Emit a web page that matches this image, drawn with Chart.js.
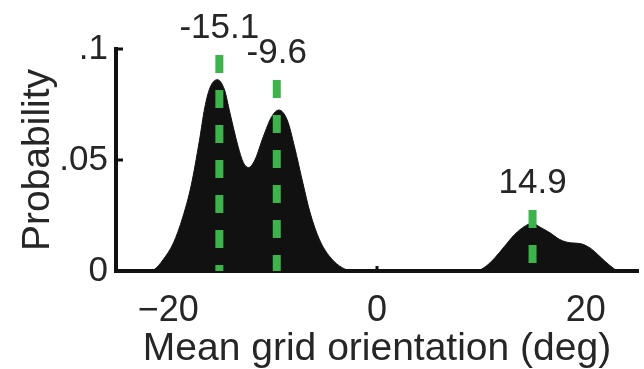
<!DOCTYPE html>
<html>
<head>
<meta charset="utf-8">
<script src="https://cdn.jsdelivr.net/npm/chart.js@4/dist/chart.umd.min.js"></script>
<style>
  html, body { margin: 0; padding: 0; background: #fff; overflow: hidden; }
  #c { display: block; }
</style>
</head>
<body>
<canvas id="c" width="644" height="369"></canvas>
<script>
// Smoothed distribution of mean grid orientation (deg) and its probability
const orientation = [
  -25, -22.0, -21.3, -20.5, -19.5, -18.6, -17.8, -17.0, -16.5, -16.0,
  -15.3, -14.6, -14.1, -13.3, -12.8, -12.3, -11.7, -10.9, -10.1, -9.4,
  -8.6, -7.9, -7.1, -6.4, -5.5, -4.5, -3.3, -2.2, 9.5, 10.4,
  11.3, 12.2, 13.2, 14.2, 14.9, 15.6, 16.6, 17.5, 18.5, 19.4,
  20.4, 21.4, 22.3, 23.2, 25
];
const probability = [
  0, 0, 0.0008, 0.0050, 0.0126, 0.0243, 0.0385, 0.0590, 0.0735, 0.0825,
  0.0862, 0.0815, 0.0715, 0.0560, 0.0488, 0.0466, 0.0500, 0.0604, 0.0694, 0.0725,
  0.0680, 0.0559, 0.0396, 0.0261, 0.0140, 0.0063, 0.0014, 0, 0, 0.0020,
  0.0060, 0.0110, 0.0165, 0.0203, 0.0215, 0.0198, 0.0171, 0.0142, 0.0127, 0.0124,
  0.0104, 0.0063, 0.0025, 0, 0
];

// Peak orientations marked with dashed lines
const peakOrientations = [-15.1, -9.6, 14.9];
const peakLabels = ['-15.1', '-9.6', '14.9'];
const markerTops = [0.0973, 0.0860, 0.0275];

// Axis ticks
const xTickValues = [-20, 0, 20];
const xTickLabels = ['\u221220', '0', '20'];
const yTickValues = [0, 0.05, 0.1];
const yTickLabels = ['0', '.05', '.1'];

const INK = '#111';
const TEXT = '#262626';
const GREEN = '#3cb44b';
const FONT = "'Liberation Sans', Arial, Helvetica, sans-serif";

Chart.defaults.font.family = FONT;
Chart.defaults.color = TEXT;

const densityData = orientation.map((x, i) => ({ x, y: probability[i] }));

const markerSets = peakOrientations.map((p, i) => ({
  label: peakLabels[i],
  data: [{ x: p, y: markerTops[i] }, { x: p, y: 0 }],
  borderColor: GREEN,
  borderWidth: 8,
  borderDash: [18, 17],
  borderCapStyle: 'butt',
  pointRadius: 0,
  fill: false,
  order: 0
}));

// Inward tick marks and the value labels above each dashed marker
const decorations = {
  id: 'decorations',
  afterDraw(chart) {
    const { ctx, chartArea, scales } = chart;
    const xs = scales.x, ys = scales.y;
    ctx.save();
    ctx.strokeStyle = INK;
    ctx.lineWidth = 3;
    ctx.lineCap = 'butt';
    yTickValues.forEach(v => {
      const y = ys.getPixelForValue(v);
      ctx.beginPath();
      ctx.moveTo(chartArea.left, y);
      ctx.lineTo(chartArea.left + 7, y);
      ctx.stroke();
    });
    xTickValues.forEach(v => {
      const x = xs.getPixelForValue(v);
      ctx.beginPath();
      ctx.moveTo(x, chartArea.bottom);
      ctx.lineTo(x, chartArea.bottom - 5);
      ctx.stroke();
    });
    ctx.fillStyle = TEXT;
    ctx.font = '35px ' + FONT;
    ctx.textAlign = 'center';
    ctx.textBaseline = 'alphabetic';
    peakOrientations.forEach((p, i) => {
      const x = xs.getPixelForValue(p);
      const y = ys.getPixelForValue(markerTops[i]) - 17;
      ctx.fillText(peakLabels[i], x, y);
    });
    ctx.restore();
  }
};

new Chart(document.getElementById('c'), {
  type: 'line',
  data: {
    datasets: [
      ...markerSets,
      {
        label: 'Probability',
        data: densityData,
        fill: 'origin',
        backgroundColor: INK,
        borderColor: INK,
        borderWidth: 1,
        pointRadius: 0,
        cubicInterpolationMode: 'monotone',
        order: 1
      }
    ]
  },
  options: {
    responsive: false,
    animation: false,
    devicePixelRatio: 1,
    layout: { padding: { left: 0, top: 49, right: 6, bottom: 0 } },
    plugins: { legend: { display: false }, tooltip: { enabled: false } },
    scales: {
      x: {
        type: 'linear',
        min: -25,
        max: 25,
        afterBuildTicks: s => { s.ticks = xTickValues.map(v => ({ value: v })); },
        afterFit: s => { s.height = 98; },
        grid: { display: false, drawTicks: false },
        border: { display: true, color: INK, width: 4 },
        ticks: {
          autoSkip: false,
          maxRotation: 0,
          padding: 18,
          font: { size: 36 },
          color: TEXT,
          callback: v => xTickLabels[xTickValues.indexOf(v)]
        },
        title: {
          display: true,
          text: 'Mean grid orientation (deg)',
          color: TEXT,
          font: { size: 39, lineHeight: 1 },
          padding: { top: 0, bottom: 0 }
        }
      },
      y: {
        min: 0,
        max: 0.1,
        afterBuildTicks: s => { s.ticks = yTickValues.map(v => ({ value: v })); },
        afterFit: s => { s.width = 116; },
        grid: { display: false, drawTicks: false },
        border: { display: true, color: INK, width: 4 },
        ticks: {
          autoSkip: false,
          padding: 8,
          font: { size: 35 },
          color: TEXT,
          callback: v => yTickLabels[yTickValues.indexOf(v)]
        },
        title: {
          display: true,
          text: 'Probability',
          color: TEXT,
          font: { size: 39, lineHeight: 1 },
          padding: { top: 19, bottom: 0 }
        }
      }
    }
  },
  plugins: [decorations]
});
</script>
</body>
</html>
